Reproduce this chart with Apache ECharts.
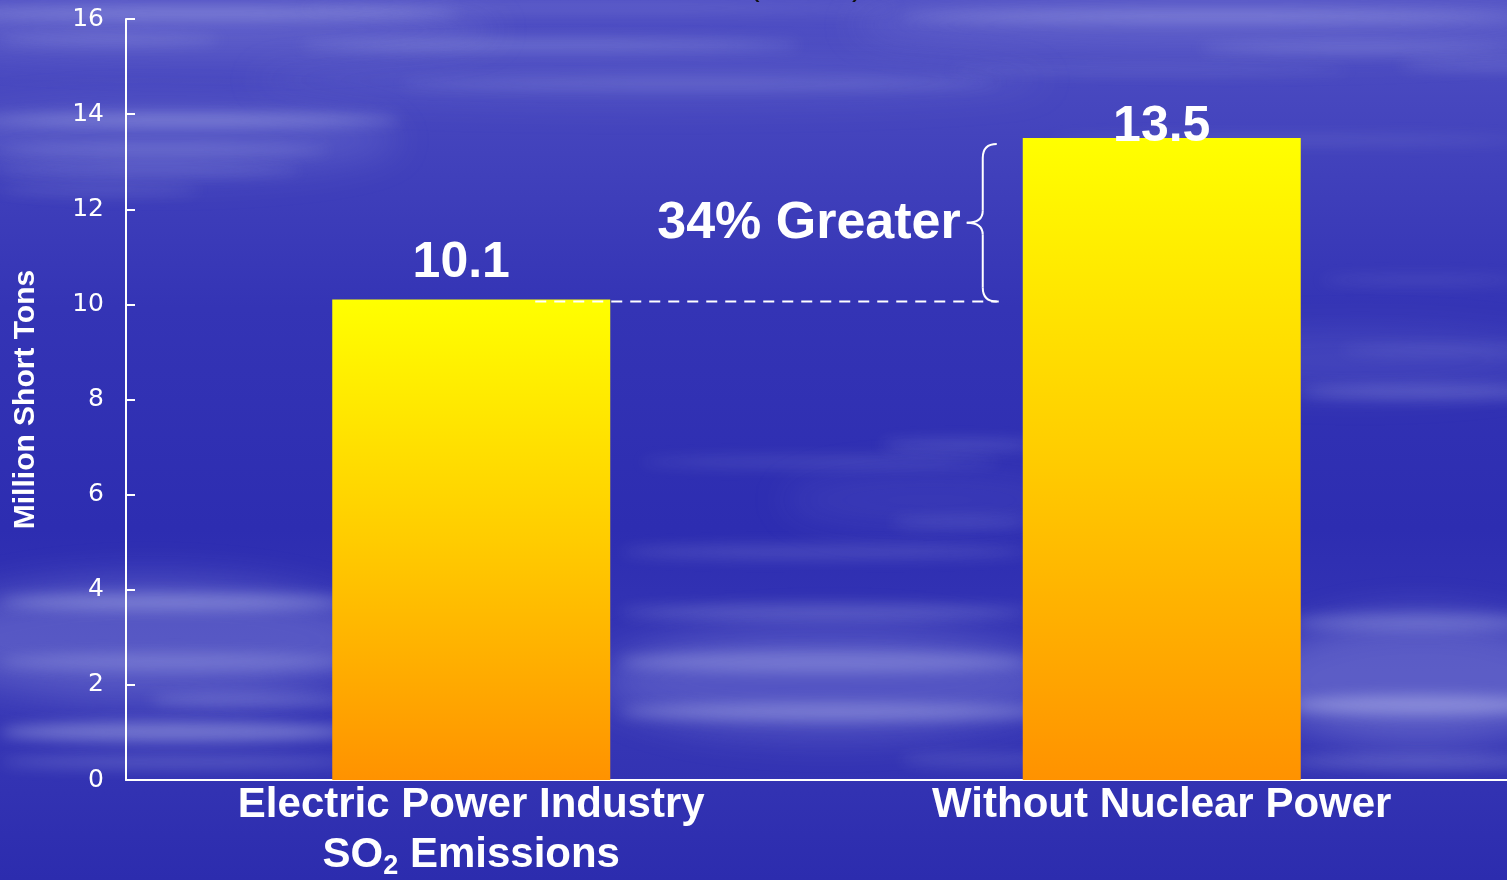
<!DOCTYPE html>
<html>
<head>
<meta charset="utf-8">
<script src="https://cdn.jsdelivr.net/npm/echarts@6/dist/echarts.min.js"></script>
<style>
  html, body { margin: 0; padding: 0; width: 1507px; height: 880px; overflow: hidden; background: #3333b4; }
  #sky { position: absolute; left: 0; top: 0; }
  #chart { position: absolute; left: 0; top: 0; width: 1507px; height: 880px; }
</style>
</head>
<body>
<canvas id="sky" width="1507" height="880"></canvas>
<div id="chart"></div>
<script>
// ---- chart data ----
const categories = ['Electric Power Industry\nSO₂ Emissions', 'Without Nuclear Power'];
const emissions = [10.1, 13.5];           // million short tons
const axisMin = 0;
const axisMax = 16;
const axisStep = 2;
const comparisonText = '34% Greater';
const yAxisTitle = 'Million Short Tons';

// ---- sky backdrop: deep blue with soft horizontal cloud streaks ----
(function paintSky() {
  const c = document.getElementById('sky');
  const ctx = c.getContext('2d');
  const g = ctx.createLinearGradient(0, 0, 0, 880);
  g.addColorStop(0.00, '#5050c4');
  g.addColorStop(0.15, '#4444bd');
  g.addColorStop(0.35, '#3434b5');
  g.addColorStop(0.60, '#2d2db1');
  g.addColorStop(0.80, '#3838b6');
  g.addColorStop(1.00, '#2c2cae');
  ctx.fillStyle = g;
  ctx.fillRect(0, 0, 1507, 880);

  function wisps(list, blur, rgb) {
    ctx.filter = 'blur(' + blur + 'px)';
    list.forEach(([x, y, w, h, a]) => {
      ctx.fillStyle = 'rgba(' + rgb + ',' + a + ')';
      ctx.beginPath();
      ctx.ellipse(x + w / 2, y, w / 2, h / 2, 0, 0, Math.PI * 2);
      ctx.fill();
    });
  }
  // broad haze
  wisps([
    [-100, 30, 600, 50, 0.16], [850, 25, 760, 50, 0.16], [250, 80, 800, 40, 0.10],
    [-80, 140, 480, 70, 0.14], [1150, 360, 420, 60, 0.12],
    [-80, 640, 460, 120, 0.26], [600, 680, 460, 110, 0.22], [1260, 680, 320, 130, 0.28],
    [780, 500, 300, 60, 0.08]
  ], 18, '190,195,245');
  // fine wisps
  wisps([
    [-60, 13, 520, 11, 0.32], [300, 8, 600, 8, 0.16], [900, 16, 620, 12, 0.28],
    [300, 45, 500, 12, 0.24], [1200, 48, 320, 10, 0.22], [0, 40, 220, 10, 0.18],
    [400, 84, 600, 10, 0.18], [950, 70, 400, 9, 0.12], [1400, 65, 200, 10, 0.18],
    [-20, 120, 420, 12, 0.34], [0, 150, 330, 11, 0.22], [0, 170, 300, 10, 0.18],
    [1050, 140, 470, 10, 0.12], [0, 190, 200, 10, 0.14],
    [1300, 392, 260, 14, 0.22], [1340, 350, 200, 10, 0.12], [1320, 280, 200, 10, 0.10],
    [880, 445, 160, 11, 0.18], [640, 462, 360, 12, 0.12], [890, 522, 140, 11, 0.14],
    [620, 552, 410, 14, 0.16], [0, 602, 350, 16, 0.32], [620, 612, 410, 16, 0.2],
    [0, 662, 350, 18, 0.22], [620, 662, 410, 22, 0.26], [1290, 622, 260, 16, 0.24],
    [1290, 705, 260, 20, 0.36], [0, 732, 350, 20, 0.38], [620, 712, 430, 18, 0.3],
    [1290, 762, 260, 14, 0.22], [0, 762, 350, 14, 0.2], [150, 700, 200, 14, 0.22],
    [900, 760, 150, 12, 0.15]
  ], 7, '215,220,250');
  ctx.filter = 'none';
})();

// ---- chart ----
const FONT = 'Liberation Sans, Arial, sans-serif';
const chart = echarts.init(document.getElementById('chart'), null, { renderer: 'canvas' });

const barGradient = new echarts.graphic.LinearGradient(0, 0, 0, 1, [
  { offset: 0, color: '#ffff00' },
  { offset: 0.5, color: '#ffcc00' },
  { offset: 1, color: '#ff9200' }
]);

function categoryLabel(v) {
  return v.split('\n')
    .map(line => '{b|' + line.replace('₂', '}{sub|2}{b|') + '}')
    .join('\n');
}

const option = {
  backgroundColor: 'transparent',
  animation: false,
  grid: { left: 126, right: 0, top: 19, bottom: 96, containLabel: false },
  xAxis: {
    type: 'category',
    data: categories,
    axisLine: { show: true, lineStyle: { color: '#ffffff', width: 2 } },
    axisTick: { show: false },
    axisLabel: {
      interval: 0,
      margin: 0,
      formatter: categoryLabel,
      rich: {
        b: { color: '#ffffff', fontSize: 42, fontWeight: 'bold', fontFamily: FONT, lineHeight: 50 },
        sub: { color: '#ffffff', fontSize: 27, fontWeight: 'bold', fontFamily: FONT, lineHeight: 18, verticalAlign: 'bottom' }
      }
    },
    splitLine: { show: false }
  },
  yAxis: {
    type: 'value',
    min: axisMin,
    max: axisMax,
    interval: axisStep,
    name: yAxisTitle,
    nameLocation: 'middle',
    nameRotate: 90,
    nameGap: 85,
    nameTextStyle: { color: '#ffffff', fontSize: 30, fontWeight: 'bold', fontFamily: FONT },
    axisLine: { show: true, lineStyle: { color: '#ffffff', width: 2 } },
    axisTick: { show: true, inside: true, length: 9, lineStyle: { color: '#ffffff', width: 2 } },
    axisLabel: { color: '#ffffff', fontSize: 25, fontFamily: 'DejaVu Sans, sans-serif', margin: 22 },
    splitLine: { show: false }
  },
  series: [
    {
      type: 'bar',
      barWidth: 278,
      data: emissions.map((v, i) => ({
        value: v,
        label: i === 0 ? { distance: 11, offset: [-10, 0] } : { distance: -14 }
      })),
      itemStyle: { color: barGradient },
      label: {
        show: true,
        position: 'top',
        color: '#ffffff',
        fontSize: 50,
        fontWeight: 'bold',
        fontFamily: FONT,
        formatter: p => p.value.toFixed(1)
      },
      silent: true
    },
    {
      // dashed reference from the first bar's height, brace spanning the gap, and its caption
      type: 'custom',
      silent: true,
      clip: false,
      z: 5,
      data: [[0, emissions[0], 1, emissions[1]]],
      renderItem: function (params, api) {
        const lo = api.coord([api.value(0), api.value(1)]);
        const hi = api.coord([api.value(2), api.value(3)]);
        const B = lo[1] + 2;
        const T = hi[1] + 6;
        const M = (T + B) / 2;
        const xr = hi[0] - 165;
        const xv = xr - 14;
        const xt = xv - 16;
        const stroke = { stroke: '#ffffff', lineWidth: 2, fill: null };
        return {
          type: 'group',
          children: [
            { type: 'line', shape: { x1: lo[0] + 64, y1: B, x2: xr + 2, y2: B },
              style: { stroke: '#ffffff', lineWidth: 2, lineDash: [11, 8] } },
            { type: 'bezierCurve', shape: { x1: xr, y1: T, x2: xv, y2: T + 14, cpx1: xv, cpy1: T }, style: stroke },
            { type: 'line', shape: { x1: xv, y1: T + 14, x2: xv, y2: M - 12 }, style: stroke },
            { type: 'bezierCurve', shape: { x1: xv, y1: M - 12, x2: xt, y2: M, cpx1: xv, cpy1: M }, style: stroke },
            { type: 'bezierCurve', shape: { x1: xt, y1: M, x2: xv, y2: M + 12, cpx1: xv, cpy1: M }, style: stroke },
            { type: 'line', shape: { x1: xv, y1: M + 12, x2: xv, y2: B - 14 }, style: stroke },
            { type: 'bezierCurve', shape: { x1: xv, y1: B - 14, x2: xr, y2: B, cpx1: xv, cpy1: B }, style: stroke },
            { type: 'text', style: {
                text: comparisonText, x: xt - 6, y: M + 1,
                fill: '#ffffff', fontSize: 52, fontWeight: 'bold', fontFamily: FONT,
                align: 'right', verticalAlign: 'middle' } }
          ]
        };
      }
    }
  ],
  graphic: [
    { type: 'text', left: 749, top: -30, style: { text: '(', fill: '#111111', fontSize: 32, fontFamily: FONT } },
    { type: 'text', left: 852, top: -30, style: { text: ')', fill: '#111111', fontSize: 32, fontFamily: FONT } }
  ]
};

chart.setOption(option);
</script>
</body>
</html>
